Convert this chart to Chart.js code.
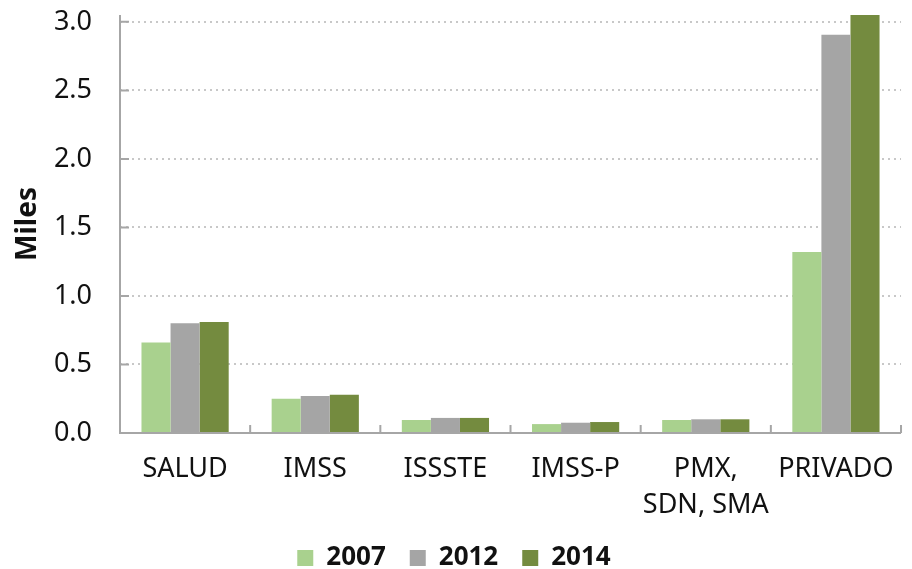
<!DOCTYPE html>
<html>
<head>
<meta charset="utf-8">
<script src="https://cdn.jsdelivr.net/npm/chart.js@4.4.1/dist/chart.umd.min.js"></script>
<style>
  html, body { margin: 0; padding: 0; background: #fff; }
  #wrap { width: 912px; height: 569px; }
</style>
</head>
<body>
<div id="wrap"><canvas id="chart"></canvas></div>
<script>
const categories = ["SALUD", "IMSS", "ISSSTE", "IMSS-P", ["PMX,", "SDN, SMA"], "PRIVADO"];
const years = ["2007", "2012", "2014"];
const values2007 = [0.66, 0.25, 0.095, 0.065, 0.095, 1.32];
const values2012 = [0.80, 0.27, 0.11, 0.075, 0.10, 2.905];
const values2014 = [0.81, 0.28, 0.11, 0.08, 0.10, 3.05];
const yTicks = [0, 0.5, 1.0, 1.5, 2.0, 2.5, 3.0];
const colors = ["#a9d18e", "#a5a5a5", "#748b3f"];

const fontFamily = "'Noto Sans', sans-serif";
const axisColor = "#a6a6a6";

// short tick marks pointing into the plot, like the original
const innerTicks = {
    id: "innerTicks",
    afterDraw(chart) {
        const ctx = chart.ctx;
        const x = chart.scales.x, y = chart.scales.y;
        const area = chart.chartArea;
        ctx.save();
        ctx.strokeStyle = axisColor;
        ctx.lineWidth = 2;
        ctx.beginPath();
        ctx.moveTo(area.left, area.top);
        ctx.lineTo(area.left, area.bottom);
        ctx.lineTo(area.right, area.bottom);
        yTicks.forEach((v) => {
            const py = y.getPixelForValue(v);
            ctx.moveTo(area.left, py);
            ctx.lineTo(area.left + 9, py);
        });
        const half = (x.getPixelForValue(1) - x.getPixelForValue(0)) / 2;
        for (let i = 0; i <= categories.length; i++) {
            const px = x.getPixelForValue(i) - half;
            ctx.moveTo(px, area.bottom);
            ctx.lineTo(px, area.bottom - 8);
        }
        ctx.stroke();
        ctx.restore();
    }
};

new Chart(document.getElementById("chart"), {
    type: "bar",
    data: {
        labels: categories,
        datasets: [
            { label: years[0], data: values2007, backgroundColor: colors[0] },
            { label: years[1], data: values2012, backgroundColor: colors[1] },
            { label: years[2], data: values2014, backgroundColor: colors[2] }
        ]
    },
    options: {
        responsive: true,
        maintainAspectRatio: false,
        animation: false,
        layout: { padding: { top: 15, right: 4, left: 0, bottom: -12 } },
        datasets: {
            bar: { categoryPercentage: 0.67, barPercentage: 1.0 }
        },
        plugins: {
            legend: {
                position: "bottom",
                labels: {
                    boxWidth: 16,
                    boxHeight: 16,
                    padding: 24,
                    color: "#111",
                    font: { family: fontFamily, size: 26, weight: "bold" }
                }
            },
            tooltip: { enabled: false }
        },
        scales: {
            x: {
                grid: { display: false, drawTicks: false },
                border: { display: false },
                ticks: {
                    color: "#111",
                    padding: 18,
                    maxRotation: 0,
                    autoSkip: false,
                    font: { family: fontFamily, size: 27, lineHeight: 1.35 }
                },
                afterFit(scale) { scale.height = 88; }
            },
            y: {
                min: 0,
                max: 3.05,
                afterBuildTicks(scale) {
                    scale.ticks = yTicks.map((v) => ({ value: v }));
                },
                grid: { color: "#c8c8c8", lineWidth: 2, drawTicks: false },
                border: { display: false, dash: [2, 4] },
                ticks: {
                    color: "#111",
                    padding: 28,
                    font: { family: fontFamily, size: 27 },
                    callback: (v) => Number(v).toFixed(1)
                },
                title: {
                    display: true,
                    text: "Miles",
                    color: "#111",
                    padding: { top: 11, bottom: 0 },
                    font: { family: fontFamily, size: 28, weight: "bold" }
                },
                afterFit(scale) {
                    scale.width = 120;
                    scale.paddingTop = 0;
                    scale.paddingBottom = 0;
                }
            }
        }
    },
    plugins: [innerTicks]
});
</script>
</body>
</html>
